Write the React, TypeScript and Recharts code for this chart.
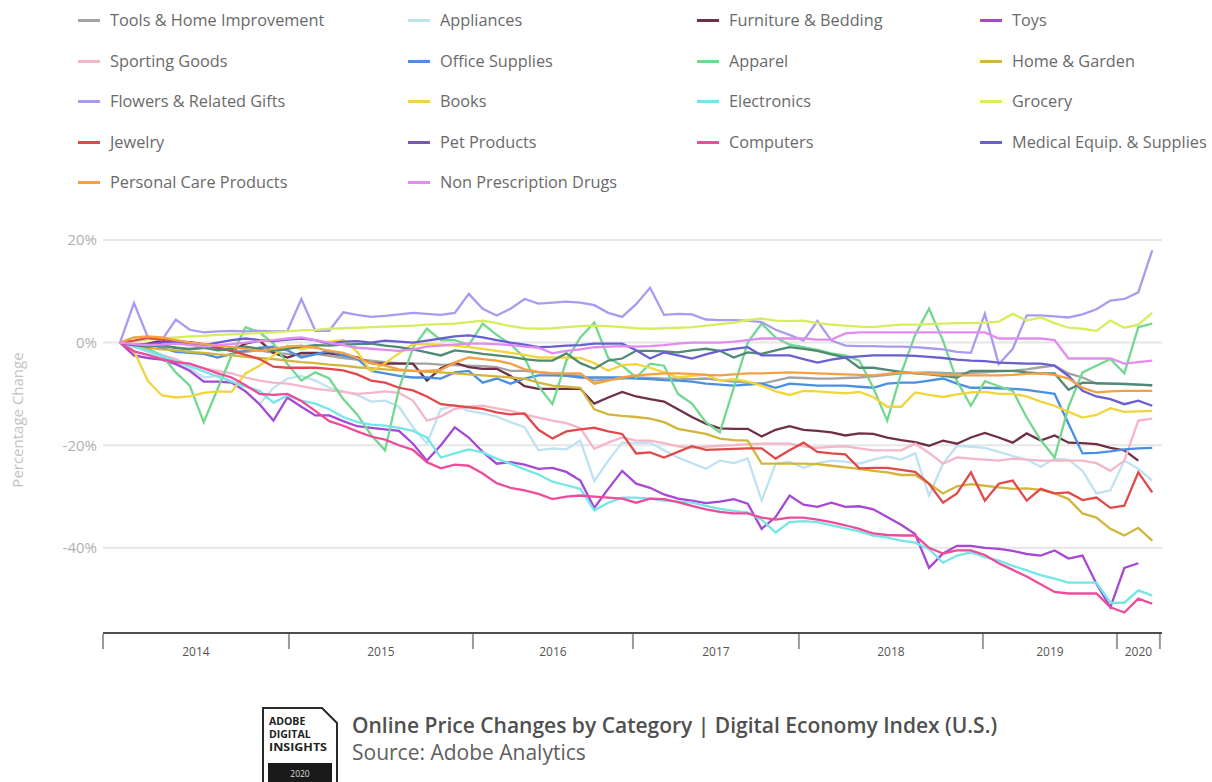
import React from 'react';
import { LineChart, Line, XAxis, YAxis, CartesianGrid } from 'recharts';

// ---------- data ----------
const categories = [
  'Tools & Home Improvement', 'Appliances', 'Furniture & Bedding', 'Toys',
  'Sporting Goods', 'Office Supplies', 'Apparel', 'Home & Garden',
  'Flowers & Related Gifts', 'Books', 'Electronics', 'Grocery',
  'Jewelry', 'Pet Products', 'Computers', 'Medical Equip. & Supplies',
  'Personal Care Products', 'Non Prescription Drugs',
];

const tools = [0, -0.3, -0.6, -0.8, -1, -1.2, -1, -1.3, -1.5, -1.8, -1.5, -2, -2.2, -2.5, -2.2,
  -2.6, -3, -3.3, -3.5, -3.8, -4, -4.1, -4.1, -4.3, -4.4, -4.5, -4.6, -4.8, -5.5, -5.5,
  -5.8, -6, -6.2, -6.5, -7.4, -7.2, -7, -6.8, -6.9, -7, -7, -7.1, -7, -7.3, -7.6,
  -7.8, -8, -7.4, -6.8, -6.9, -7, -7, -6.9, -6.8, -6.6, -6.3, -6, -5.9, -5.8, -5.9,
  -6, -5.9, -5.8, -5.6, -5.5, -5.2, -4.8, -4.5, -6, -6.8, -8, -8, -8, -8.2, -8.4];

const appliances = [0, -0.8, -1.8, -3, -4, -5, -6.8, -6.5, -7.5, -9.5, -12, -8.8, -7, -6.5, -7.4,
  -8.8, -9.5, -10.2, -11.5, -11.3, -12.5, -16.5, -19.7, -13, -12.2, -13.3, -13.8, -14.4, -15.5, -16.5,
  -21, -20.6, -20.8, -19.1, -27, -23, -19.5, -19.6, -19.5, -21, -22.4, -23.5, -24.6, -23, -23.5,
  -22.6, -30.8, -23.6, -23.2, -24.4, -23.5, -23, -23.2, -23.6, -22.8, -22.2, -22.8, -21.6, -29.8, -23.6,
  -20.1, -20.3, -20.5, -21.3, -22.1, -22.8, -24.2, -22.6, -22.8, -25, -29.4, -28.8, -23, -24.6, -26.9];

const furniture = [0, -0.6, -0.2, 0.4, 0.2, 0, -0.4, -1, -1.6, -0.2, 0.4, -2, -2.9, -2, -2,
  -2.1, -2.5, -2.9, -4, -4.1, -4.1, -4.1, -7.4, -5, -3.9, -4.8, -5.1, -5.1, -6.5, -8.5,
  -9, -9, -9, -9, -11.9, -10.7, -9.6, -10.5, -11, -11.5, -13, -14.5, -15.8, -16.7, -16.8,
  -16.8, -18.3, -17, -16.3, -17, -17.2, -17.5, -18.1, -17.7, -17.8, -18.5, -19, -19.4, -20.1, -19.1,
  -19.7, -18.5, -17.6, -18.5, -19.5, -17.7, -19.1, -18.1, -19.5, -19.6, -19.8, -20.5, -21, -23, null];

const toys = [0, -2.5, -3, -3.3, -4.2, -5.5, -7.6, -7.6, -7.8, -9.5, -12, -15.2, -10.7, -12.5, -14.2,
  -14.2, -15.3, -16.3, -16.6, -16.9, -17.2, -19.7, -23, -20, -16.5, -18.5, -21.3, -23.6, -23.3, -23.8,
  -24.6, -24.4, -25.2, -26.9, -32.2, -28.5, -25, -27.5, -28.3, -29.6, -30.4, -30.8, -31.3, -31, -30.5,
  -31.4, -36.3, -34, -29.8, -31.6, -32, -31.2, -32, -31.9, -32.5, -34, -35.5, -37.3, -43.9, -41.1,
  -39.6, -39.6, -40, -40.2, -40.6, -41.2, -41.5, -40.5, -42.1, -41.5, -47, -51.6, -43.9, -43, null];

const sporting = [0, -0.8, -1.6, -2.4, -3.2, -4.5, -5, -5.5, -6, -6.8, -7.4, -7.8, -8, -8.5, -9,
  -9.3, -9.6, -10, -9.8, -9.5, -9.8, -11.3, -15.2, -14.4, -12.9, -12.5, -12.3, -12.8, -13.3, -14,
  -14.6, -15.2, -15.7, -16.7, -20.7, -19.5, -18.5, -19.1, -19.1, -19.6, -20.2, -20.5, -20.3, -20.1, -20,
  -19.8, -19.7, -19.7, -19.7, -20.2, -20.5, -20.3, -20.2, -20.6, -21, -21, -21, -19.7, -21.5, -23.6,
  -22.4, -22.6, -22.8, -23, -22.6, -22.8, -23, -23, -23, -23, -23.5, -25, -23, -15.2, -14.8];

const office = [0, -0.5, -0.3, -1, -1.8, -2, -2.2, -2.9, -2.2, -1.6, -1, -0.8, -1.5, -2.9, -2.3,
  -1.6, -2.5, -3.1, -5.5, -6, -6.5, -6.8, -6.8, -7, -5.8, -5.5, -7.8, -7, -8, -7,
  -6.4, -6.4, -6.5, -6.8, -6.8, -6.8, -6.8, -7, -7.1, -7.3, -7.4, -7.6, -8, -8.2, -8.4,
  -8.2, -8, -8.8, -8, -8.2, -8.4, -8.4, -8.4, -8.6, -8.8, -8, -7.8, -7.8, -7.4, -7,
  -8, -8.8, -8.8, -8.9, -9, -9.2, -9.6, -10, -15.8, -21.6, -21.5, -21.2, -20.8, -20.6, -20.5];

const apparel = [0, -0.5, -1.2, -2.5, -5.8, -8.4, -15.5, -9, -2.5, 3, 2, -0.2, -4.2, -7.4, -5.8,
  -7, -11, -14, -18, -21, -9, -1, 2.7, 0.5, 0.5, -0.5, 3.7, 1.5, -0.3, -3,
  -8.5, -12, -3.5, 1, 3.9, -3, -4.5, -6.8, -4.1, -4.5, -10, -11.9, -15.5, -17.5, -8.8,
  0, 3.7, 1, -0.4, -0.9, -1.4, -2.1, -2.5, -3.5, -8.8, -15.2, -6, 1.5, 6.6, 0.4,
  -7.5, -12.3, -7.5, -8.5, -9.4, -14.6, -19, -22.4, -12.5, -5.8, -4.5, -3.2, -6, 3, 3.7];

const homeGarden = [0, -0.5, -1, -1.3, -1.5, -1.8, -2, -2.3, -2.5, -2.8, -3, -3.2, -3.5, -3.8, -4,
  -4.3, -4.5, -4.8, -5, -5.2, -5.4, -5.5, -5.7, -5.8, -6, -6.2, -6.4, -6.6, -6.8, -7,
  -7.8, -8.4, -8.6, -8.8, -13, -14, -14.3, -14.5, -14.8, -15.5, -16.8, -17.3, -17.8, -18.7, -19,
  -19.1, -23.6, -23.6, -23.6, -23.6, -23.7, -24, -24.3, -24.6, -25, -25.3, -25.8, -25.8, -27.5, -29.4,
  -28, -27.6, -27.9, -28.2, -28.5, -28.4, -28.7, -29.4, -30.5, -33.3, -34.1, -36.3, -37.6, -36.1, -38.6];

const flowers = [0, 7.7, 1, 0.5, 4.5, 2.5, 2, 2.2, 2.3, 2.2, 2.3, 2.2, 2.3, 8.5, 2.3,
  2.3, 5.9, 5.4, 5, 5.2, 5.5, 5.8, 5.6, 5.4, 5.8, 9.5, 6.6, 5.3, 6.6, 8.5,
  7.6, 7.8, 8, 7.8, 7.3, 5.8, 5, 7.5, 10.7, 5.4, 5.6, 5.5, 4.5, 4.4, 4.4,
  4.3, 4, 2.5, 1.5, 0.4, 4.2, 0.4, -0.6, -0.7, -0.7, -0.8, -0.8, -0.9, -1.1, -1.3,
  -1.8, -2, 5.6, -4.2, -1.2, 5.3, 5.3, 5.1, 4.9, 5.5, 6.5, 8.2, 8.5, 9.8, 18];

const books = [0, -1.6, -7.5, -10.3, -10.7, -10.5, -9.8, -9.5, -9.6, -6, -4.5, -2.5, -0.6, -1.3, -0.8,
  0.2, 0.5, -1.8, -5.6, -4, -2.1, -0.3, -0.3, -0.4, -0.6, -0.9, -1.2, -1.6, -2, -2.4,
  -2.9, -2.9, -2.9, -3, -4, -5.5, -4.4, -4.2, -4.9, -5.8, -6.8, -6.5, -6.2, -7.4, -7.1,
  -7.6, -8.4, -9.5, -10.2, -9.4, -9.5, -9.7, -9.9, -9.6, -10.6, -12.5, -12.5, -9.7, -10.2, -10.6,
  -10.1, -9.7, -9.6, -10, -10, -10.5, -11.5, -12.3, -13.5, -14.6, -14.1, -12.8, -13.5, -13.4, -13.3];

const electronics = [0, -0.8, -1.6, -2.6, -3.6, -4.6, -5.6, -6.6, -7.6, -8.6, -9.4, -11.7, -10.3, -11.3, -11.9,
  -13, -14.5, -15.5, -16, -16.2, -16.6, -17.2, -18.5, -22.4, -21.6, -20.8, -21.4, -22.6, -23.6, -24.7,
  -25.7, -27.1, -27.8, -28.5, -32.7, -31.2, -30.2, -30.2, -30.4, -30.8, -31, -31.2, -31.8, -32.4, -32.8,
  -33.1, -34.5, -37, -35, -34.8, -35, -35.6, -36.2, -36.8, -37.6, -38, -38.6, -39, -40.2, -42.9,
  -41.5, -40.9, -41.8, -42.5, -43.5, -44.4, -45.3, -46, -46.8, -46.8, -46.8, -50.7, -50.7, -48.3, -49.3];

const grocery = [0, 0.3, 0.6, 0.8, 1.0, 1.2, 1.3, 1.5, 1.6, 1.7, 1.9, 2.0, 2.2, 2.4, 2.5,
  2.7, 2.8, 2.9, 3.0, 3.1, 3.2, 3.3, 3.5, 3.6, 3.7, 4.0, 4.3, 3.8, 3.2, 2.8,
  2.7, 2.8, 3.0, 3.2, 3.3, 3.2, 3.0, 2.8, 2.7, 2.8, 2.9, 3.0, 3.3, 3.6, 3.9,
  4.4, 4.7, 4.3, 4.2, 4.3, 3.8, 3.5, 3.3, 3.1, 3.0, 3.3, 3.5, 3.5, 3.6, 3.7,
  3.8, 3.8, 3.9, 4.1, 5.6, 4.3, 4.9, 3.8, 2.9, 2.7, 2.3, 4.3, 2.9, 3.5, 5.8];

const jewelry = [0, 0.4, 0.9, 0.6, 0.3, 0.1, -0.3, -0.9, -1.6, -2.4, -3.2, -4.7, -4.9, -4.9, -4.9,
  -5.1, -5.4, -6.2, -7.4, -7.8, -8.8, -9.3, -10.5, -12, -12.3, -12.6, -12.9, -13.6, -14, -13.8,
  -17, -18.7, -17.3, -16.9, -16.6, -17.3, -17.8, -21.6, -21.4, -22.4, -21.3, -20.2, -20.9, -20.8, -20.7,
  -20.6, -20.6, -22.6, -21, -19.5, -21.3, -21.6, -21.8, -24.5, -24.4, -24.4, -24.8, -25.2, -27.5, -31.2,
  -29.4, -25.3, -30.8, -27.5, -26.9, -30.8, -28.5, -29.4, -29.2, -30.7, -30.2, -32.2, -31.8, -25.3, -29.2];

const pet = [0, -0.5, -0.8, -0.5, -1, -1.3, -1, -1.5, -1.2, -0.8, -1.2, -1.6, -1.2, -0.8, -0.5,
  -0.6, -0.4, -0.3, -0.2, -0.6, -0.9, -1.3, -1.9, -2.5, -1.5, -1.8, -2.2, -2.5, -2.8, -3.2,
  -3.5, -3.5, -2.1, -4, -5.1, -3.5, -3.1, -1.6, -1.6, -1.7, -1.9, -1.5, -1.2, -1.6, -2.9,
  -1.9, -2.2, -1.5, -0.9, -1.2, -1.6, -2.3, -2.9, -4.9, -4.9, -5.3, -5.7, -6, -6.2, -6.5,
  -6.8, -5.5, -5.5, -5.5, -5.5, -5.8, -6, -6, -9.2, -7.8, -7.9, -8, -8.1, -8.2, -8.3];

const computers = [0, -1.7, -2.4, -3.2, -3.8, -4.1, -5, -6, -6.8, -8.3, -10, -10.2, -10, -11.4, -13.3,
  -15.3, -16.2, -17.3, -18.3, -18.9, -20, -20.9, -23.3, -24.5, -23.8, -24, -25.5, -27.4, -28.3, -28.8,
  -29.5, -30.5, -30, -29.8, -30, -30.2, -30.4, -31.2, -30.4, -30.5, -31.1, -31.8, -32.5, -33, -33.3,
  -33.3, -34.1, -34.5, -34.1, -34.1, -34.5, -35, -35.6, -36.3, -37.2, -37.5, -37.6, -37.6, -40, -41.1,
  -40.5, -40.5, -41.4, -43, -44.3, -45.6, -47.1, -48.6, -48.9, -48.9, -48.9, -51.6, -52.6, -49.9, -50.9];

const medical = [0, -0.5, -0.3, 0, 0.2, -0.2, -0.5, 0, 0.5, 0.8, 0.5, 0.3, 0.6, 0.8, 0.5,
  -0.2, 0.2, 0.3, 0, 0.4, 0.2, 0, 0.4, 0.8, 1.2, 1.4, 1, 0.5, 0, -0.4,
  -0.9, -0.8, -0.6, -0.5, -0.2, -0.2, -0.2, -1.5, -3.1, -1.9, -2.5, -3.1, -2.3, -1.6, -1.2,
  -0.9, -2.5, -2.5, -2.5, -3.2, -3.9, -3.3, -2.9, -2.7, -2.5, -2.5, -2.5, -2.6, -2.8, -3,
  -3.3, -3.5, -3.6, -3.9, -4, -4.1, -4.1, -4.5, -6.5, -9.4, -10.5, -11, -12, -11.3, -12.3];

const personalCare = [0, 1, 1.2, 1, 0.5, 0, -0.3, -0.6, -0.9, -1.2, -1.6, -1.2, -0.8, -0.6, -1,
  -1.6, -2, -3, -4, -4.5, -5.2, -5.5, -5.5, -5.3, -3.9, -2.9, -3.2, -3.5, -4.1, -5.2,
  -5.7, -6, -6, -6, -8, -7.4, -6.8, -6.4, -6.2, -6, -6, -6.1, -6.3, -6.4, -6.2,
  -6, -6, -5.9, -5.8, -5.9, -6, -6.1, -6.2, -6.3, -6.4, -6.1, -5.8, -5.9, -6.1, -6.3,
  -6.4, -6.4, -6.4, -6.4, -6.3, -6.1, -6, -6.3, -7, -8.8, -9.7, -9.5, -9.4, -9.4, -9.4];

const nonRx = [0, -0.3, -0.5, -0.4, -0.2, -0.5, -0.8, -0.5, -0.3, 0, 0.3, 0.5, 0.8, 1, 0.5,
  0, -0.5, -1, -1.2, -1.4, -1.6, -1.3, -0.8, -0.6, -0.4, -0.2, -0.2, -0.3, -0.5, -0.8,
  -1, -2.1, -1.6, -1.3, -0.9, -0.8, -0.7, -0.8, -0.7, -0.5, -0.2, 0, 0, 0, 0.2,
  0.5, 0.8, 0.8, 0.8, 0.8, 0.6, 0.6, 1.8, 2, 2, 2, 2, 2, 2, 2,
  2, 2, 2, 0.8, 0.8, 0.8, 0.8, 0.5, -3.1, -3.1, -3.1, -3.1, -4.1, -3.8, -3.5];

const seriesValues = [
  tools, appliances, furniture, toys,
  sporting, office, apparel, homeGarden,
  flowers, books, electronics, grocery,
  jewelry, pet, computers, medical,
  personalCare, nonRx,
];

// year dividers on the month axis (month index units) and their labels
const yearBounds = [-1.22, 12.11, 25.3, 36.77, 48.67, 61.86, 71.47, 74.55];
const yearLabels = ['2014', '2015', '2016', '2017', '2018', '2019', '2020'];
const yTicks = [-40, -20, 0, 20];

// ---------- styles ----------
const LINE_COLORS = [
  '#a3a3a3', '#bfe2f2', '#6e2f47', '#a648d6',
  '#f5b7c8', '#4a8fe2', '#72d890', '#d3b53c',
  '#a99cf0', '#f0d63c', '#74e6e6', '#d6ee5e',
  '#e04a4a', '#4f8a72', '#ee4b9b', '#6a5fd0',
  '#f4a043', '#e28cf0',
];
const SWATCH_COLORS = LINE_COLORS.map((c, i) => (i === 13 ? '#7a58b8' : c));

const yearMids = yearBounds.slice(1).map((b, i) => (b + yearBounds[i]) / 2);

const data = seriesValues[0].map((_, i) => {
  const row: Record<string, number | null> = { m: i };
  seriesValues.forEach((vals, s) => {
    const v = vals[i];
    row['s' + s] = v === undefined ? null : v;
  });
  return row;
});

const YearTick = (props: any) => {
  const { x, y, payload } = props;
  const v = payload.value;
  const bi = yearBounds.indexOf(v);
  if (bi >= 0) {
    return <line x1={x} x2={x} y1={y - 1} y2={y + 14} stroke="#9a9a9a" strokeWidth={2} />;
  }
  const mi = yearMids.indexOf(v);
  return (
    <text x={x} y={y + 21} textAnchor="middle" fontSize={12} fill="#555" fontFamily="'Open Sans', sans-serif">
      {yearLabels[mi]}
    </text>
  );
};

const legendCols = [78, 408, 697, 980];
const legendRows = [20, 61, 101, 142, 182];

export default function App() {
  return (
    <div style={{ position: 'absolute', left: 0, top: 0, width: 1212, height: 782, background: '#fff', overflow: 'hidden', fontFamily: "'Open Sans', sans-serif" }}>
      {categories.map((name, i) => (
        <div key={name} style={{ position: 'absolute', left: legendCols[i % 4], top: legendRows[Math.floor(i / 4)] - 11, height: 22, display: 'flex', alignItems: 'center', whiteSpace: 'nowrap' }}>
          <span style={{ display: 'inline-block', width: 22, height: 3, background: SWATCH_COLORS[i], marginRight: 10 }} />
          <span style={{ fontSize: 16.3, color: '#6a6a6a' }}>{name}</span>
        </div>
      ))}

      <div style={{ position: 'absolute', left: 0, top: 0 }}>
        <LineChart width={1212} height={700} data={data} margin={{ top: 240, right: 50, bottom: 27, left: 0 }}>
          <CartesianGrid vertical={false} stroke="#e6e6e6" strokeWidth={2} />
          <XAxis
            dataKey="m"
            type="number"
            domain={[-1.22, 74.7]}
            allowDataOverflow
            ticks={[...yearBounds, ...yearMids]}
            interval={0}
            tick={<YearTick />}
            tickLine={false}
            tickSize={0}
            axisLine={{ stroke: '#4d4d4d', strokeWidth: 2 }}
            height={40}
          />
          <YAxis
            type="number"
            domain={[-56.6, 20]}
            allowDataOverflow
            ticks={yTicks}
            tickFormatter={(v: number) => `${v}%`}
            axisLine={false}
            tickLine={false}
            tickSize={4}
            tickMargin={2}
            width={103}
            tick={{ fill: '#b0b0b0', fontSize: 15, fontFamily: "'Open Sans', sans-serif" }}
          />
          {categories.map((name, i) => (
            <Line
              key={name}
              type="linear"
              dataKey={'s' + i}
              name={name}
              stroke={LINE_COLORS[i]}
              strokeWidth={2.3}
              dot={false}
              isAnimationActive={false}
            />
          ))}
        </LineChart>
      </div>

      <div style={{ position: 'absolute', left: 17, top: 420, transform: 'translate(-50%, -50%) rotate(-90deg)', whiteSpace: 'nowrap', fontSize: 15, color: '#c2c2c2' }}>
        Percentage Change
      </div>

      <svg style={{ position: 'absolute', left: 260, top: 705 }} width={82} height={77}>
        <path d="M3 77 V3 H62 L77 18 V77" fill="none" stroke="#2a2a2a" strokeWidth={2} />
        <text x={9} y={20} fontSize={10.5} fontWeight={700} fill="#222" fontFamily="'Open Sans', sans-serif">ADOBE</text>
        <text x={9} y={33} fontSize={10.5} fontWeight={700} fill="#222" fontFamily="'Open Sans', sans-serif">DIGITAL</text>
        <text x={9} y={46} fontSize={10.5} fontWeight={700} fill="#222" fontFamily="'Open Sans', sans-serif" textLength={58} lengthAdjust="spacingAndGlyphs">INSIGHTS</text>
        <rect x={8} y={58} width={64} height={19} fill="#1a1a1a" />
        <text x={40} y={72} fontSize={8.5} textAnchor="middle" fill="#ddd" fontFamily="'Open Sans', sans-serif">2020</text>
      </svg>
      <div style={{ position: 'absolute', left: 352, top: 710, fontSize: 21, fontWeight: 600, color: '#505050', whiteSpace: 'nowrap', lineHeight: '30px' }}>
        Online Price Changes by Category | Digital Economy Index (U.S.)
      </div>
      <div style={{ position: 'absolute', left: 352, top: 737, fontSize: 21, color: '#606060', whiteSpace: 'nowrap', lineHeight: '30px' }}>
        Source: Adobe Analytics
      </div>
    </div>
  );
}
